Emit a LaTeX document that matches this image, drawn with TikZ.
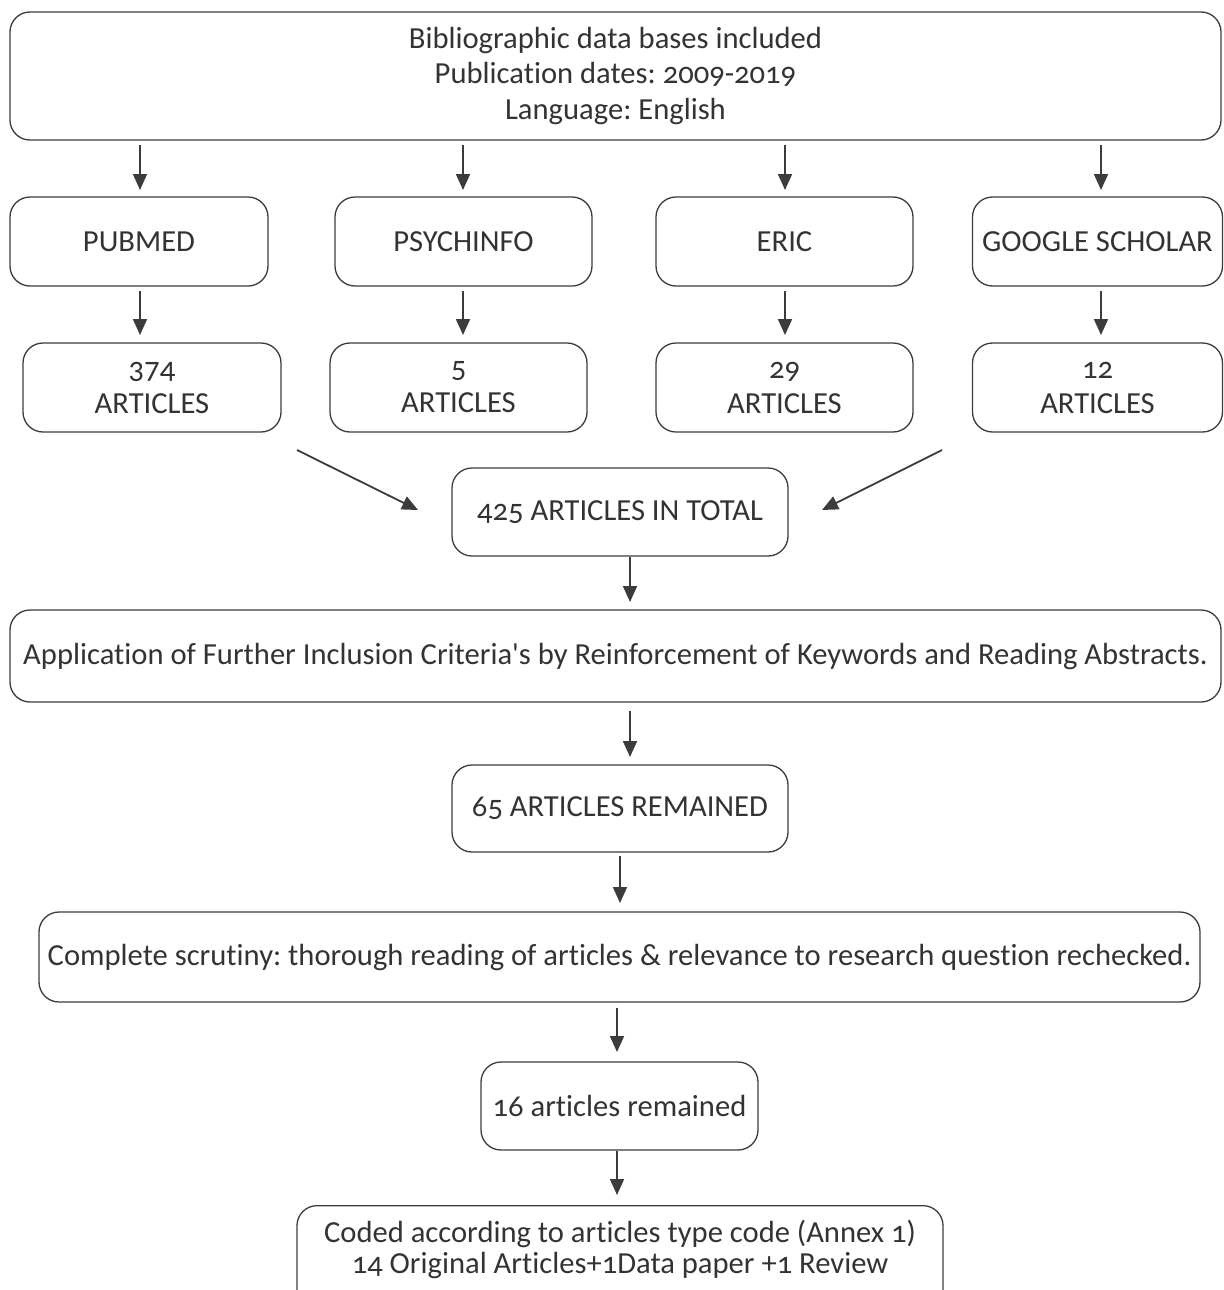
\documentclass[tikz,border=0pt]{standalone}
\usepackage{fontspec}
\setmainfont{Carlito}[Numbers=OldStyle,Ligatures=NoCommon]
\newfontfamily\plainfont{Carlito}
\usetikzlibrary{arrows.meta}
\definecolor{ink}{HTML}{333333}
\definecolor{edge}{HTML}{3C3C3C}
\frenchspacing
\begin{document}
\begin{tikzpicture}[x=0.5pt,y=-0.5pt,
  box/.style={draw=edge, line width=0.65pt, rounded corners=10pt, align=center,
    text=ink, font=\fontsize{15.3}{17.5}\selectfont, inner sep=0pt},
  two/.style={font=\fontsize{15.3}{17.5}\selectfont},
  arr/.style={draw=edge, line width=0.9pt, -{Triangle[width=7pt,length=8pt]}}]
\useasboundingbox (0,0) rectangle (1223,1290);
% top
\node[box, minimum width=605.5pt, minimum height=64pt, font=\fontsize{15.3}{17.75}\selectfont] (top) at (615.5,76) {Bibliographic data bases included\\Publication dates: 2009-2019\\Language: English};
% row 2
\node[box, minimum width=129pt, minimum height=44.5pt] (pub) at (139,241.5) {PUBMED};
\node[box, minimum width=128.5pt, minimum height=44.5pt] (psy) at (463.5,241.5) {PSYCHINFO};
\node[box, minimum width=128.5pt, minimum height=44.5pt] (eric) at (784.5,241.5) {ERIC};
\node[box, minimum width=125pt, minimum height=44.5pt] (goo) at (1097.5,241.5) {GOOGLE SCHOLAR};
% row 3
\node[box, two, minimum width=129pt, minimum height=44.5pt] (n1) at (152,387.5) {374\\ARTICLES};
\node[box, two, minimum width=128.5pt, minimum height=44.5pt] (n2) at (458.5,387.5) {5\\ARTICLES};
\node[box, two, minimum width=128.5pt, minimum height=44.5pt] (n3) at (784.5,387.5) {29\\ARTICLES};
\node[box, two, minimum width=125pt, minimum height=44.5pt] (n4) at (1097.5,387.5) {12\\ARTICLES};
% total
\node[box, minimum width=168pt, minimum height=44pt] (tot) at (620,512) {425 ARTICLES IN TOTAL};
\node[box, minimum width=605.5pt, minimum height=46pt] (app) at (615.5,656) {Application of Further Inclusion Criteria{\plainfont '}s by Reinforcement of Keywords and Reading Abstracts.};
\node[box, minimum width=168pt, minimum height=43.5pt] (r65) at (620,808.5) {65 ARTICLES REMAINED};
\node[box, minimum width=580.5pt, minimum height=45pt] (scr) at (619.5,957) {Complete scrutiny: thorough reading of articles \& relevance to research question rechecked.};
\node[box, minimum width=138.5pt, minimum height=44pt] (r16) at (619.5,1106) {16 articles remained};
\node[box, minimum width=323pt, font=\fontsize{15.3}{15.5}\selectfont, anchor=north] (cod) at (620,1205) {\rule{0pt}{18.5pt}Coded according to articles type code (Annex 1)\\14 Original Articles+1Data paper +1 Review\\[18pt]};
% connectors
\coordinate (t1) at (140,145); \coordinate (t2) at (463,145);
\coordinate (t3) at (785,145); \coordinate (t4) at (1101,145);
\draw[arr] (t1) -- (140,190);
\draw[arr] (t2) -- (463,190);
\draw[arr] (t3) -- (785,190);
\draw[arr] (t4) -- (1101,190);
\draw[arr] (pub.south -| 140,0) ++(0,4) -- (140,335);
\draw[arr] (psy.south -| 463,0) ++(0,4) -- (463,335);
\draw[arr] (eric.south -| 785,0) ++(0,4) -- (785,335);
\draw[arr] (goo.south -| 1101,0) ++(0,4) -- (1101,335);
\coordinate (dl) at (297,450); \coordinate (dr) at (942,450);
\draw[arr] (dl) -- (418,510);
\draw[arr] (dr) -- (822,510);
\draw[arr] (tot.south -| 630,0) -- (630,602);
\draw[arr] (app.south -| 630,0) ++(0,8) -- (630,757);
\draw[arr] (r65.south -| 620,0) ++(0,3) -- (620,903);
\draw[arr] (scr.south -| 617,0) ++(0,5) -- (617,1052);
\draw[arr] (r16.south -| 617,0) -- (617,1195);
\end{tikzpicture}
\end{document}
